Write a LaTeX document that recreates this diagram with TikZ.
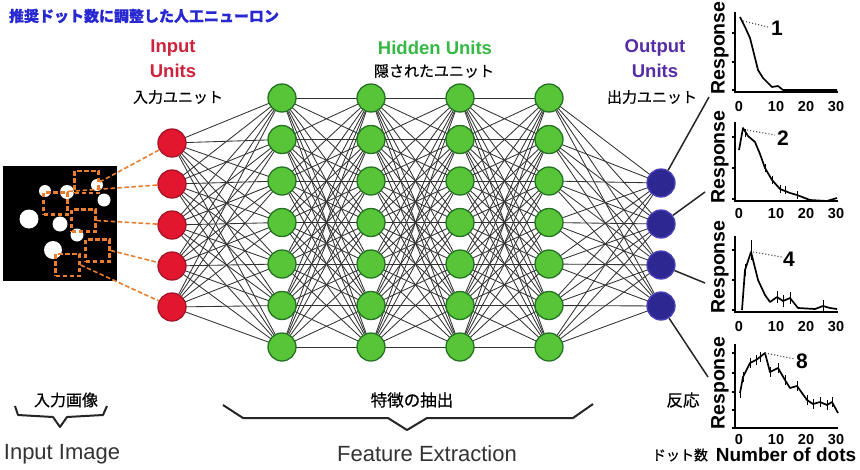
\documentclass[tikz,border=0pt]{standalone}
\usepackage{fontspec}
\setmainfont{Liberation Sans}
\newfontfamily\jp[FakeBold=0.6]{Noto Sans CJK JP}
\definecolor{inred}{RGB}{226,22,46}
\definecolor{inredd}{RGB}{165,20,40}
\definecolor{hgreen}{RGB}{88,196,56}
\definecolor{hgreend}{RGB}{35,115,35}
\definecolor{onavy}{RGB}{45,40,145}
\definecolor{onavyd}{RGB}{75,65,185}
\definecolor{txtred}{RGB}{205,35,60}
\definecolor{txtgreen}{RGB}{55,185,70}
\definecolor{txtpurple}{RGB}{85,45,165}
\definecolor{titleblue}{RGB}{40,40,210}
\definecolor{dorange}{RGB}{232,125,45}
\tikzset{
  unit/.style={circle, minimum size=28pt, inner sep=0pt, line width=1.3pt},
  inu/.style={unit, fill=inred, draw=inredd},
  hid/.style={unit, fill=hgreen, draw=hgreend},
  outu/.style={unit, fill=onavy, draw=onavyd},
  link/.style={line width=0.85pt, black!80},
  orsq/.style={draw=dorange, line width=2.2pt, dash pattern=on 4.5pt off 2.5pt, minimum width=24pt, minimum height=22pt, inner sep=0pt},
  ordash/.style={draw=dorange, line width=1.6pt, dash pattern=on 4.5pt off 2.5pt},
  lbl/.style={font=\fontsize{18.5}{20}\selectfont\bfseries, inner sep=0pt},
  jlbl/.style={font=\jp\fontsize{15}{16}\selectfont, inner sep=0pt},
  brace/.style={line width=2pt, black!85, line join=round},
  axis/.style={line width=1.2pt, black},
  curve/.style={line width=1.7pt, black, line join=round},
  ebar/.style={line width=0.8pt, black},
  lead/.style={line width=1.1pt, black!70, dotted},
  tick/.style={font=\fontsize{14.5}{15}\selectfont\bfseries, inner sep=0pt},
  resp/.style={font=\fontsize{19.5}{20}\selectfont\bfseries, inner sep=0pt, rotate=90},
  num/.style={font=\fontsize{21}{22}\selectfont\bfseries, inner sep=0pt},
  outline/.style={line width=1.5pt, black!85}
}
\begin{document}
\begin{tikzpicture}[x=1pt,y=-1pt]
\useasboundingbox (0,0) rectangle (860,469);
\fill[white] (0,0) rectangle (860,469);

% title
\node[font=\jp\bfseries\fontsize{15}{16}\selectfont, text=titleblue, inner sep=0pt] (title) at (144,16) {推奨ドット数に調整した人工ニューロン};

% layer labels
\node[lbl, text=txtred] (inlab1) at (173,48) {Input};
\node[lbl, text=txtred] (inlab2) at (173,71) {Units};
\node[jlbl] (inlab3) at (178,97) {入力ユニット};
\node[lbl, text=txtgreen] (hidlab1) at (435,48) {Hidden Units};
\node[jlbl] (hidlab2) at (434,71) {隠されたユニット};
\node[lbl, text=txtpurple] (outlab1) at (655,48) {Output};
\node[lbl, text=txtpurple] (outlab2) at (655,71) {Units};
\node[jlbl] (outlab3) at (652,97) {出力ユニット};

% node coordinates
\foreach \i in {1,...,5} {
  \coordinate (ip\i) at (172,{143+41*(\i-1)});
}
\foreach \c/\x in {1/282,2/371,3/460,4/549} {
  \foreach \r in {1,...,7} {
    \coordinate (hp\c-\r) at (\x,{98+41.5*(\r-1)});
  }
}
\foreach \o in {1,...,4} {
  \coordinate (op\o) at (661,{183+41*(\o-1)});
}

% links
\foreach \i in {1,...,5} \foreach \r in {1,...,7} \draw[link] (ip\i) -- (hp1-\r);
\foreach \c/\n in {1/2,2/3,3/4} \foreach \r in {1,...,7} \foreach \s in {1,...,7} \draw[link] (hp\c-\r) -- (hp\n-\s);
\foreach \r in {1,...,7} \foreach \o in {1,...,4} \draw[link] (hp4-\r) -- (op\o);

% units
\foreach \i in {1,...,5} \node[inu] (i\i) at (ip\i) {};
\foreach \c in {1,...,4} \foreach \r in {1,...,7} \node[hid] (h\c-\r) at (hp\c-\r) {};
\foreach \o in {1,...,4} \node[outu] (o\o) at (op\o) {};

% input image
\node[fill=black, minimum width=114pt, minimum height=115pt, inner sep=0pt] (img) at (60,223.5) {};
\foreach \x/\y/\r in {45/191/6, 67/192/7, 97/185/6, 104/200/6.5, 29/219/9.5, 60/224/7.5, 77/235/6.5, 53/250/9} {
  \fill[white] (\x,\y) circle[radius=\r];
}
\node[orsq] (sqA) at (86.5,182) {};
\node[orsq] (sqB) at (55.5,203.5) {};
\node[orsq] (sqC) at (83.5,220.5) {};
\node[orsq] (sqD) at (97.5,250.5) {};
\node[orsq] (sqE) at (67.5,265) {};
\draw[ordash] (sqA.east) -- (i1);
\draw[ordash] (sqB.north east) -- (i2);
\draw[ordash] (sqC.east) -- (i3);
\draw[ordash] (sqD.east) -- (i4);
\draw[ordash] (sqE.east) -- (i5);

% output lines to graphs
\coordinate (g1) at (709,97);
\coordinate (g2) at (705,192);
\coordinate (g3) at (705,283);
\coordinate (g4) at (708,377);
\foreach \o in {1,...,4} \draw[outline] (o\o) -- (g\o);

% braces and bottom labels
\draw[brace] (15,406) -- (18,415) -- (53,417) -- (60,427) -- (67,417) -- (103,415) -- (107,406);
\node[font=\jp\fontsize{16}{17}\selectfont, inner sep=0pt] (imgj) at (66,400) {入力画像};
\node[font=\fontsize{22}{24}\selectfont, inner sep=0pt, text=black!80] (imgl) at (62,454) {Input Image};
\draw[brace] (223,405) -- (243,418) -- (388,418) -- (407,430) -- (427,418) -- (573,418) -- (593,404);
\node[font=\jp\fontsize{16.5}{17}\selectfont, inner sep=0pt] (featj) at (412,400) {特徴の抽出};
\node[font=\fontsize{22}{24}\selectfont, inner sep=0pt, text=black!80] (featl) at (427,454) {Feature Extraction};
\node[font=\jp\fontsize{16.5}{17}\selectfont, inner sep=0pt] (respj) at (683,400) {反応};
\node[font=\jp\fontsize{14}{15}\selectfont, inner sep=0pt] (dotj) at (680,455) {ドット数};
\node[font=\fontsize{19}{20}\selectfont\bfseries, inner sep=0pt] (dotl) at (786,455) {Number of dots};

% ---- graphs ----
% panel 1
\node[resp] (r1) at (720,48) {Response};
\draw[axis] (735,12) -- (735,92) -- (838,92);
\foreach \t in {33,62,90} \draw[axis] (732,\t) -- (735,\t);
\foreach \v/\x in {0/739,10/776,20/806,30/836} \node[tick] at (\x,107) {\v};
\draw[curve] plot coordinates {(740,17) (745,27) (750,38) (754,54) (758,70) (763,78) (768,83) (772,87) (778,86) (783,90) (800,90) (837,90)};
\draw[lead] (743,21) -- (768,27);
\node[num] (n1) at (777,28) {1};

% panel 2
\node[resp] (r2) at (720,157) {Response};
\draw[axis] (735,122) -- (735,201) -- (838,201);
\foreach \t in {137,168,199} \draw[axis] (732,\t) -- (735,\t);
\foreach \v/\x in {0/739,10/776,20/806,30/836} \node[tick] at (\x,214) {\v};
\draw[curve] plot coordinates {(739,150) (743,128) (748,136) (755,142) (760,154) (765,168) (772,180) (780,189) (790,193) (797,195) (810,200) (827,201) (837,198)};
\foreach \x/\y in {745/133, 765/168, 772/180, 780/189, 785/190, 797/195} \draw[ebar] (\x,\y-4) -- (\x,\y+4);
\draw[lead] (747,130) -- (775,135);
\node[num] (n2) at (783,138) {2};

% panel 3
\node[resp] (r3) at (720,267) {Response};
\draw[axis] (735,236) -- (735,312) -- (838,312);
\foreach \t in {250,280,310} \draw[axis] (732,\t) -- (735,\t);
\foreach \v/\x in {0/739,10/776,20/806,30/836} \node[tick] at (\x,327) {\v};
\draw[curve] plot coordinates {(742,310) (745,270) (751,252) (755,268) (758,280) (765,295) (770,302) (777,297) (783,301) (790,298) (798,308) (815,309) (823,306) (830,308) (837,309)};
\draw[ebar] (751,240) -- (751,260);
\foreach \x/\y in {745/270, 777/297, 783/301, 790/298, 823/306} \draw[ebar] (\x,\y-6) -- (\x,\y+6);
\draw[lead] (753,252) -- (782,257);
\node[num] (n3) at (789,259) {4};

% panel 4
\node[resp] (r4) at (720,383) {Response};
\draw[axis] (735,344) -- (735,428) -- (838,428);
\foreach \t in {353,373,392,410,428} \draw[axis] (732,\t) -- (735,\t);
\foreach \v/\x in {0/739,10/776,20/806,30/836} \node[tick] at (\x,440) {\v};
\draw[curve] plot coordinates {(740,393) (743,377) (750,363) (756,360) (760,357) (765,353) (770,372) (778,368) (785,380) (790,388) (797,386) (807,400) (813,404) (820,402) (827,405) (832,402) (838,413)};
\foreach \x/\y in {740/393, 743/377, 750/363, 756/360, 760/357, 770/372, 778/368, 785/380, 797/386, 807/400, 813/404, 820/402, 827/405, 832/402} \draw[ebar] (\x,\y-5) -- (\x,\y+5);
\draw[lead] (765,353) -- (795,359);
\node[num] (n4) at (802,361) {8};
\end{tikzpicture}
\end{document}
